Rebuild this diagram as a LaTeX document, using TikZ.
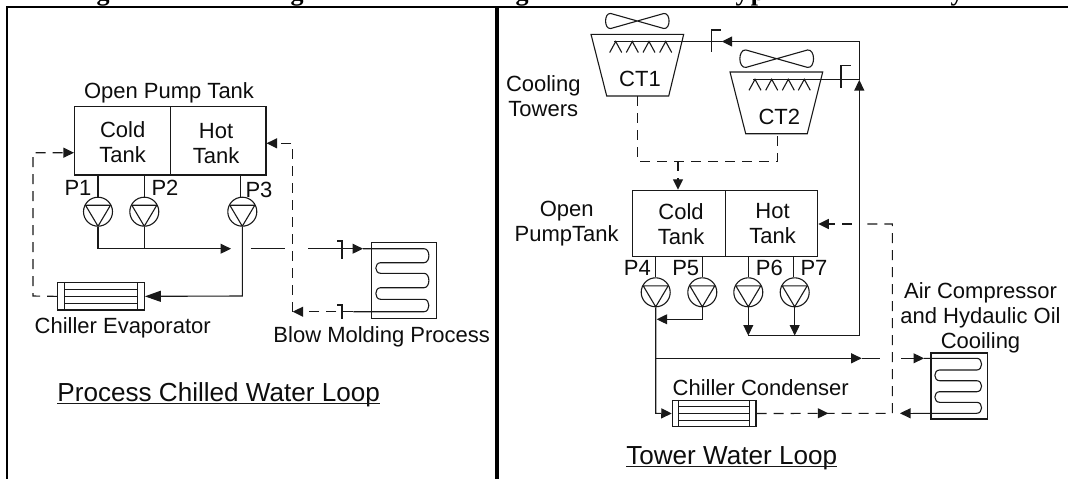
\documentclass[tikz,border=0pt]{standalone}
\usepackage{fontspec}
\setmainfont{Liberation Sans}
\newfontfamily\serifb{Liberation Serif}
\usetikzlibrary{arrows.meta,calc}
\tikzset{
  x=1pt,y=-1pt,
  pipe/.style={line width=1.1pt,draw=black!90},
  dashpipe/.style={pipe,dash pattern=on 10pt off 7pt},
  tip/.style={-{Triangle[length=10.5pt,width=10pt]}},
  bigtip/.style={-{Triangle[length=16pt,width=11pt]}},
  frameline/.style={draw=black,line width=2pt},
  lbl/.style={font=\fontsize{22}{25}\selectfont,inner sep=0pt,align=center,text=black!95},
  loopname/.style={font=\fontsize{26.1}{28}\selectfont,inner sep=0pt,anchor=base,text=black!95},
  box/.style={pipe,rectangle,inner sep=0pt},
  pumpnode/.style={pipe,circle,inner sep=0pt,minimum size=29pt,
    path picture={\draw[pipe] ([shift={(-12.5,-6.5)}]path picture bounding box.center)
      -- ([shift={(12.5,-6.5)}]path picture bounding box.center)
      -- ([shift={(0,14.5)}]path picture bounding box.center) -- cycle;}},
  fanblade/.pic={\draw[pipe] (0,0) -- (26.5,-7.5) .. controls (33.5,-8.5) and (33.5,8.5) .. (26.5,7.5)
     -- (-26.5,-7.5) .. controls (-33.5,-8.5) and (-33.5,8.5) .. (-26.5,7.5) -- cycle;},
  sprayhead/.pic={\draw[pipe] (-6,11) -- (0,0) -- (6,11);},
  glyph/.style={font=\serifb\bfseries\fontsize{26}{26}\selectfont,inner sep=0pt,anchor=base}
}
\newcommand{\exchanger}[6]{% name,left,right,top,bottom,inset
  \node[box,draw,minimum width=#3-#2,minimum height=#5-#4] (#1) at ({(#2+#3)/2},{(#4+#5)/2}) {};
  \draw[pipe] ($(#1.north west)+(#6,0)$) -- ($(#1.south west)+(#6,0)$);
  \draw[pipe] ($(#1.north east)+(-#6,0)$) -- ($(#1.south east)+(-#6,0)$);
  \draw[pipe] ($(#1.west)+(#6,-7)$) -- ($(#1.east)+(-#6,-7)$);
  \draw[pipe] ($(#1.west)+(#6,0)$) -- ($(#1.east)+(-#6,0)$);
  \draw[pipe] ($(#1.west)+(#6,7)$) -- ($(#1.east)+(-#6,7)$);
}
% serpentine: start, R, L, y1..y6, then end coordinate as a tenth group
\newcommand{\serpentine}[9]{%
  \def\ya{#4}\def\yb{#5}\def\yc{#6}\def\yd{#7}\def\ye{#8}\def\yf{#9}\serpentineb{#1}{#2}{#3}}
\newcommand{\serpentineb}[4]{%
  \draw[pipe] (#1) -- ({#2-5},\ya)
   .. controls ({#2+1.5},\ya) and ({#2+1.5},\yb) .. ({#2-5},\yb) -- ({#3+5},\yb)
   .. controls ({#3-1.5},\yb) and ({#3-1.5},\yc) .. ({#3+5},\yc) -- ({#2-5},\yc)
   .. controls ({#2+1.5},\yc) and ({#2+1.5},\yd) .. ({#2-5},\yd) -- ({#3+5},\yd)
   .. controls ({#3-1.5},\yd) and ({#3-1.5},\ye) .. ({#3+5},\ye) -- ({#2-5},\ye)
   .. controls ({#2+1.5},\ye) and ({#2+1.5},\yf) .. ({#2-5},\yf) -- (#4);}
\begin{document}
\begin{tikzpicture}
\useasboundingbox (0,0) rectangle (1068,479);
% clipped heading
\begin{scope}
\clip (0,0) rectangle (1068,6);
\node[glyph] (g1) at (103,0) {g};
\node[glyph] (g2) at (297,0) {g};
\node[glyph] (g3) at (522,0) {g};
\node[glyph] (y1) at (742,0) {y};
\node[glyph] (p1g) at (758,0) {p};
\node[glyph] (y2) at (957,0) {y};
\end{scope}
% frame
\draw[frameline] (7,479) -- (7,6.5) -- (1068,6.5);
\draw[draw=black,line width=4pt] (497,6.5) -- (497,479);

%%%%% LEFT
\node[box,draw,minimum width=96pt,minimum height=68.5pt] (coldA) at (122.5,140.75) {};
\node[box,draw,minimum width=95.5pt,minimum height=68.5pt] (hotA) at (218.25,140.75) {};
\node[lbl] (tcoldA) at (122.7,141.7) {Cold\\Tank};
\node[lbl] (thotA) at (216,143.7) {Hot\\Tank};
\node[lbl] (openA) at (169,93) {Open Pump Tank};
\node[pumpnode,draw] (pA1) at (98,211.7) {};
\node[pumpnode,draw] (pA2) at (144.3,211.7) {};
\node[pumpnode,draw] (pA3) at (242.3,211.7) {};
\node[lbl] (lA1) at (78,187.7) {P1};
\node[lbl] (lA2) at (165,187.7) {P2};
\node[lbl] (lA3) at (259,189.7) {P3};
\draw[pipe] (pA1.north) -- (pA1.north |- coldA.south);
\draw[pipe] (pA2.north) -- (pA2.north |- coldA.south);
\draw[pipe] ([xshift=-1.6pt]pA3.north) -- ([xshift=-1.6pt]pA3.north |- hotA.south);
\exchanger{evap}{57.7}{144.3}{282.7}{310}{7.3}
\node[lbl] (levap) at (122.7,327.7) {Chiller Evaporator};
\coordinate (jA1) at (98,248.7);
\coordinate (jA1e) at (231,248.7);
\draw[pipe,tip] (pA1.south) -- (jA1) -- (jA1e);
\draw[pipe] (pA2.south) -- (pA2.south |- jA1);
\draw[pipe,bigtip] (pA3.south) -- (242.3,296) -- (evap.east);
\draw[dashpipe,tip] (evap.west) -- (33,296) -- (33,152.7) -- (coldA.west |- 33,152.7);
% process coil
\node[box,draw,minimum width=65pt,minimum height=75.6pt] (coilA) at (404.2,280.5) {};
\node[lbl] (lcoilA) at (381.7,337) {Blow Molding Process};
\coordinate (cA1) at (363,248.7);
\coordinate (cA2) at (353.3,311.7);
\serpentine{cA1}{429}{375.7}{248.7}{262.7}{273.3}{287.7}{299.3}{311.7}{cA2}
\coordinate (rA1) at (250.7,248.7);
\coordinate (rA2) at (285,248.7);
\coordinate (rA3) at (308,248.7);
\draw[pipe] (rA1) -- (rA2);
\draw[pipe,tip] (rA3) -- (cA1);
\coordinate (rA4) at (292.7,311.7);
\draw[dashpipe,tip] (cA2) -- (rA4);
\draw[dashpipe,tip] (rA4) -- (292.7,143.3) -- (hotA.east |- 292.7,143.3);
% valves
\coordinate (vA1) at (342,241);
\draw[pipe] (337,241) -- (vA1) -- (342,259);
\coordinate (vA2) at (342,305);
\draw[pipe] (337,305) -- (vA2) -- (342,319);
\node[loopname] (titleA) at (218.7,401.7) {Process Chilled Water Loop};
\draw[pipe,line width=1.3pt] ([yshift=-2pt]titleA.base west) -- ([yshift=-2pt]titleA.base east);

%%%%% RIGHT - towers
\draw[pipe] (591,34.3) -- (683.7,34.3) -- (668.7,96) -- (606.7,96) -- cycle;
\pic at (637.3,21) {fanblade};
\node[lbl] (ct1) at (640,79) {CT1};
\draw[pipe] (730,72) -- (822.7,72) -- (807.3,133.7) -- (745.7,133.7) -- cycle;
\pic[xscale=1.16,yscale=1.16] at (776.7,58.7) {fanblade};
\node[lbl] (ct2) at (779.3,117.3) {CT2};
\node[lbl] (cooling) at (543.3,95.7) {Cooling\\Towers};
\foreach \sx in {615.7,632.3,649,665.7} \pic at (\sx,41.5) {sprayhead};
\foreach \sx in {755,771.7,788.3,804.3} \pic at (\sx,79.3) {sprayhead};
% tank B
\node[box,draw,minimum width=92.6pt,minimum height=66pt] (coldB) at (679,223.3) {};
\node[box,draw,minimum width=92.4pt,minimum height=66pt] (hotB) at (771.5,223.3) {};
\node[lbl] (tcoldB) at (681,223.8) {Cold\\Tank};
\node[lbl] (thotB) at (772.5,223.3) {Hot\\Tank};
\node[lbl] (openB) at (566.7,223.5) {Open\\PumpTank};
\coordinate (ct1b) at (637.3,96);
\coordinate (ct2b) at (777.3,133.7);
\coordinate (cc) at (678,161.3);
\draw[dashpipe] (ct1b) -- (637.3,161.3) -- (777.3,161.3) -- (ct2b);
\draw[dashpipe,tip] (cc) -- (cc |- coldB.north);
% pumps B
\node[pumpnode,draw] (pB4) at (655.7,292.3) {};
\node[pumpnode,draw] (pB5) at (702.3,292.3) {};
\node[pumpnode,draw] (pB6) at (748.3,292.3) {};
\node[pumpnode,draw] (pB7) at (794.7,292.3) {};
\node[lbl] (lB4) at (637.3,268.3) {P4};
\node[lbl] (lB5) at (685.7,268.3) {P5};
\node[lbl] (lB6) at (769.3,267.7) {P6};
\node[lbl] (lB7) at (814,268) {P7};
\draw[pipe] (pB4.north) -- (pB4.north |- coldB.south);
\draw[pipe] (pB5.north) -- (pB5.north |- coldB.south);
\draw[pipe] (pB6.north) -- (pB6.north |- hotB.south);
\draw[pipe] ([xshift=-1.4pt]pB7.north) -- ([xshift=-1.4pt]pB7.north |- hotB.south);
% condenser
\exchanger{cond}{672.3}{756}{400.3}{426.7}{7}
\node[lbl] (lcond) at (760.7,387.7) {Chiller Condenser};
\coordinate (j4) at (655.7,358.3);
\draw[pipe,tip] (pB4.south) -- (655.7,413.3) -- (cond.west);
\draw[pipe,tip] (pB5.south) -- (702.3,319.3) -- (656.7,319.3);
\coordinate (hB) at (859.3,335.5);
\draw[pipe,tip] (pB6.south) -- (748.3,335.5);
\draw[pipe,tip] (pB7.south) -- (794.7,335.5);
\draw[pipe,tip] (748.3,335.5) -- (hB) -- (859.3,80);
\coordinate (topR) at (859.3,41.5);
\coordinate (valveT) at (721.7,41.5);
\draw[pipe,tip] (859.3,80) -- (topR) -- (valveT);
\draw[pipe] (valveT) -- (614.3,41.5);
\draw[pipe] (859.3,79.3) -- (753.3,79.3);
\draw[pipe] (720.7,30) -- (711.3,30) -- (711.3,52.3);
\draw[pipe] (850.7,65.3) -- (841,65.3) -- (841,87.7);
% coil B
\node[box,draw,minimum width=56.7pt,minimum height=66pt] (coilB) at (959.3,386) {};
\node[lbl] (lcoilB) at (980.5,318) {Air Compressor\\and Hydaulic Oil\\Cooiling};
\coordinate (cB1) at (924,358.3);
\coordinate (cB2) at (913,413.3);
\serpentine{cB1}{981.7}{934.7}{358.3}{370}{380.7}{391.7}{402.3}{413.3}{cB2}
\draw[pipe,tip] (cB2) -- (900,413.3);
\draw[pipe,tip] (j4) -- (861.7,358.3);
\draw[pipe] (861.7,358.3) -- (880,358.3);
\draw[pipe,tip] (901,358.3) -- (cB1);
\coordinate (dR) at (892.3,413.3);
\draw[dashpipe] (cond.east) -- (dR) -- (892.3,224) -- (867,224);
\draw[pipe,tip] (818,413.3) -- (828.3,413.3);
\draw[dashpipe,tip] (851.7,224) -- (hotB.east |- 851.7,224);
\node[loopname] (titleB) at (731.7,464.3) {Tower Water Loop};
\draw[pipe,line width=1.3pt] ([yshift=-2.2pt]titleB.base west) -- ([yshift=-2.2pt]titleB.base east);
\end{tikzpicture}
\end{document}
